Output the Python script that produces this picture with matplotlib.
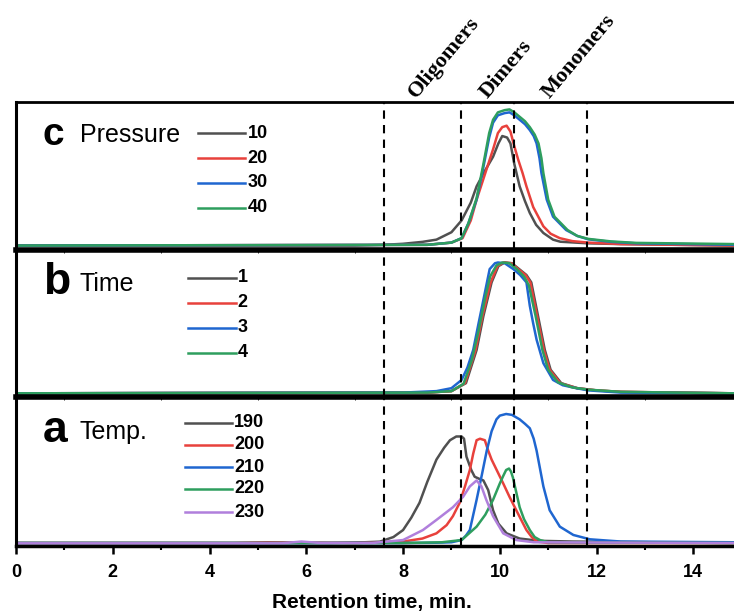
import numpy as np
import matplotlib
matplotlib.use('Agg')
import matplotlib.pyplot as plt

plt.rcParams['font.family'] = 'Liberation Sans'

# retention time (min) and normalised detector signal
# panel c : pressure
press_labels = ['10', '20', '30', '40']
press_x = [
    [0, 7.0, 7.6, 8.0, 8.4, 8.69, 9.0, 9.21, 9.4, 9.52, 9.7, 9.86, 9.97, 10.05, 10.15, 10.22, 10.3, 10.41, 10.52, 10.62, 10.75, 10.9, 11.1, 11.25, 11.83, 12.5, 14.84],
    [0, 8.5, 9.0, 9.23, 9.4, 9.52, 9.7, 9.86, 9.96, 10.05, 10.14, 10.22, 10.3, 10.38, 10.47, 10.55, 10.69, 10.9, 11.05, 11.24, 11.5, 11.83, 12.5, 14.84],
    [0, 8.5, 9.0, 9.21, 9.35, 9.52, 9.66, 9.78, 9.86, 9.96, 10.1, 10.2, 10.3, 10.41, 10.52, 10.62, 10.7, 10.76, 10.82, 10.86, 10.97, 11.1, 11.37, 11.6, 11.83, 12.3, 12.82, 14.84],
    [0, 8.5, 9.0, 9.21, 9.35, 9.52, 9.66, 9.78, 9.86, 9.96, 10.1, 10.2, 10.3, 10.41, 10.52, 10.62, 10.72, 10.8, 10.86, 10.9, 11.0, 11.13, 11.4, 11.6, 11.83, 12.3, 12.82, 14.84],
]
press_y = [
    [0.03, 0.03, 0.035, 0.042, 0.055, 0.07, 0.12, 0.20, 0.32, 0.43, 0.54, 0.63, 0.72, 0.77, 0.76, 0.72, 0.58, 0.43, 0.33, 0.25, 0.17, 0.115, 0.07, 0.056, 0.045, 0.04, 0.03],
    [0.03, 0.035, 0.05, 0.08, 0.20, 0.34, 0.52, 0.68, 0.79, 0.83, 0.84, 0.80, 0.70, 0.61, 0.52, 0.43, 0.29, 0.16, 0.11, 0.08, 0.06, 0.05, 0.04, 0.03],
    [0.03, 0.035, 0.05, 0.08, 0.18, 0.34, 0.56, 0.76, 0.86, 0.91, 0.925, 0.93, 0.91, 0.88, 0.85, 0.81, 0.77, 0.72, 0.62, 0.52, 0.34, 0.225, 0.135, 0.095, 0.072, 0.055, 0.045, 0.035],
    [0.03, 0.035, 0.05, 0.08, 0.18, 0.35, 0.58, 0.79, 0.88, 0.93, 0.945, 0.95, 0.93, 0.90, 0.87, 0.83, 0.78, 0.72, 0.62, 0.52, 0.34, 0.225, 0.135, 0.095, 0.075, 0.058, 0.048, 0.04],
]

# panel b : time
time_labels = ['1', '2', '3', '4']
time_x = [
    [0, 8.5, 9.0, 9.3, 9.52, 9.66, 9.83, 9.97, 10.1, 10.25, 10.4, 10.55, 10.65, 10.79, 10.93, 11.05, 11.27, 11.6, 12.0, 12.5, 14.84],
    [0, 8.5, 9.0, 9.28, 9.5, 9.64, 9.81, 9.95, 10.08, 10.23, 10.38, 10.53, 10.63, 10.77, 10.91, 11.03, 11.25, 11.6, 12.0, 12.5, 14.84],
    [0, 8.0, 8.69, 9.0, 9.21, 9.33, 9.45, 9.56, 9.66, 9.79, 9.9, 9.96, 10.1, 10.28, 10.42, 10.55, 10.62, 10.69, 10.76, 10.9, 11.1, 11.3, 11.58, 11.83, 12.5, 14.84],
    [0, 8.5, 9.0, 9.25, 9.42, 9.56, 9.7, 9.8, 9.93, 10.05, 10.2, 10.35, 10.5, 10.6, 10.74, 10.88, 11.0, 11.2, 11.5, 11.83, 12.5, 14.84],
]
time_y = [
    [0.025, 0.03, 0.04, 0.094, 0.32, 0.55, 0.78, 0.89, 0.915, 0.91, 0.87, 0.83, 0.78, 0.55, 0.32, 0.185, 0.094, 0.06, 0.045, 0.035, 0.025],
    [0.025, 0.03, 0.04, 0.094, 0.32, 0.55, 0.78, 0.89, 0.915, 0.91, 0.87, 0.83, 0.78, 0.55, 0.32, 0.185, 0.094, 0.06, 0.045, 0.035, 0.025],
    [0.025, 0.03, 0.04, 0.06, 0.116, 0.2, 0.32, 0.5, 0.66, 0.87, 0.91, 0.915, 0.91, 0.87, 0.83, 0.78, 0.62, 0.50, 0.39, 0.23, 0.116, 0.08, 0.06, 0.045, 0.03, 0.025],
    [0.025, 0.03, 0.04, 0.09, 0.25, 0.45, 0.68, 0.82, 0.895, 0.915, 0.91, 0.87, 0.82, 0.76, 0.55, 0.32, 0.185, 0.1, 0.065, 0.05, 0.035, 0.025],
]

# panel a : temperature
temp_labels = ['190', '200', '210', '220', '230']
temp_x = [
    [0, 6.5, 7.2, 7.52, 7.8, 8.0, 8.17, 8.34, 8.5, 8.69, 8.85, 8.97, 9.1, 9.21, 9.26, 9.31, 9.41, 9.48, 9.58, 9.66, 9.76, 9.86, 9.97, 10.14, 10.41, 10.8, 11.5, 14.84],
    [0, 4.5, 5.2, 7.0, 8.0, 8.4, 8.69, 8.9, 9.03, 9.17, 9.28, 9.38, 9.45, 9.52, 9.59, 9.69, 9.76, 9.83, 9.95, 10.07, 10.2, 10.34, 10.45, 10.55, 10.66, 10.76, 11.0, 14.84],
    [0, 8.0, 8.7, 9.0, 9.21, 9.3, 9.38, 9.52, 9.63, 9.73, 9.83, 9.93, 10.0, 10.13, 10.25, 10.41, 10.52, 10.62, 10.7, 10.76, 10.83, 10.9, 11.03, 11.24, 11.52, 11.86, 12.5, 14.84],
    [0, 8.0, 8.8, 9.21, 9.52, 9.7, 9.86, 10.0, 10.07, 10.13, 10.19, 10.23, 10.27, 10.34, 10.41, 10.5, 10.62, 10.72, 10.83, 11.0, 14.84],
    [0, 5.5, 5.9, 6.3, 7.36, 8.0, 8.41, 8.69, 9.03, 9.24, 9.38, 9.52, 9.62, 9.72, 9.86, 10.07, 10.34, 10.7, 14.84],
]
temp_y = [
    [0.02, 0.02, 0.025, 0.029, 0.06, 0.107, 0.19, 0.29, 0.43, 0.58, 0.66, 0.71, 0.735, 0.735, 0.72, 0.60, 0.51, 0.465, 0.45, 0.44, 0.375, 0.24, 0.15, 0.085, 0.05, 0.035, 0.03, 0.02],
    [0.02, 0.02, 0.025, 0.02, 0.03, 0.05, 0.085, 0.14, 0.20, 0.29, 0.40, 0.51, 0.62, 0.71, 0.72, 0.71, 0.64, 0.58, 0.50, 0.42, 0.33, 0.24, 0.17, 0.107, 0.06, 0.03, 0.02, 0.02],
    [0.02, 0.02, 0.022, 0.025, 0.04, 0.07, 0.107, 0.31, 0.48, 0.64, 0.77, 0.85, 0.875, 0.886, 0.88, 0.85, 0.82, 0.79, 0.72, 0.64, 0.52, 0.40, 0.24, 0.13, 0.074, 0.045, 0.03, 0.025],
    [0.02, 0.02, 0.025, 0.04, 0.13, 0.21, 0.31, 0.42, 0.47, 0.51, 0.52, 0.50, 0.46, 0.36, 0.26, 0.18, 0.107, 0.06, 0.04, 0.025, 0.02],
    [0.018, 0.018, 0.03, 0.02, 0.02, 0.04, 0.107, 0.175, 0.26, 0.33, 0.40, 0.44, 0.40, 0.31, 0.20, 0.085, 0.04, 0.025, 0.02],
]

region_x = [7.6, 9.2, 10.3, 11.8]
region_names = ['Oligomers', 'Dimers', 'Monomers']
region_name_x = [8.27, 9.74, 11.02]

colors = ['#505050', '#e8413c', '#1f66d0', '#2e9e5e', '#b07fdc']

fig = plt.figure(figsize=(7.34, 6.15), dpi=100)
left = 16 / 734
ax_a = fig.add_axes([left, 1 - 546 / 615, 1 - left, 149 / 615])
ax_b = fig.add_axes([left, 1 - 397 / 615, 1 - left, 147 / 615], sharex=ax_a)
ax_c = fig.add_axes([left, 1 - 250 / 615, 1 - left, 148 / 615], sharex=ax_a)


def draw_panel(ax, xs, ys, labels, letter, letter_size, title, leg_x, leg_rows, text_y):
    for i in range(len(xs)):
        ax.plot(xs[i], ys[i], color=colors[i], lw=1.8, zorder=2)
    for xv in region_x:
        ax.axvline(xv, color='k', lw=1.5, ls=(0, (4, 3)), zorder=3)
    ax.set_ylim(0, 1)
    ax.set_yticks([])
    ax.text(0.0376, text_y, letter, transform=ax.transAxes, fontsize=letter_size,
            fontweight='bold', va='baseline', ha='left')
    ax.text(0.089, text_y + 0.02, title, transform=ax.transAxes, fontsize=18,
            va='baseline', ha='left')
    for i, lab in enumerate(labels):
        ax.plot([leg_x, leg_x + 0.066], [leg_rows[i], leg_rows[i]], color=colors[i],
                lw=1.8, transform=ax.transAxes)
        ax.text(leg_x + 0.069, leg_rows[i], lab, transform=ax.transAxes, fontsize=13,
                fontweight='bold', va='center', ha='left')
    for s in ['right', 'top']:
        ax.spines[s].set_visible(False)
    ax.spines['left'].set_linewidth(2.2)
    ax.spines['bottom'].set_linewidth(4)


draw_panel(ax_c, press_x, press_y, press_labels, 'c', 28, 'Pressure', 0.2535,
           [0.79, 0.62, 0.455, 0.284], 0.709)
draw_panel(ax_b, time_x, time_y, time_labels, 'b', 32, 'Time', 0.24,
           [0.81, 0.64, 0.47, 0.30], 0.70)
draw_panel(ax_a, temp_x, temp_y, temp_labels, 'a', 32, 'Temp.', 0.235,
           [0.826, 0.678, 0.53, 0.383, 0.228], 0.698)

ax_c.spines['top'].set_visible(True)
ax_c.spines['top'].set_linewidth(2)
ax_a.spines['bottom'].set_linewidth(2.5)

for ax in (ax_b, ax_c):
    ax.tick_params(axis='x', bottom=False, labelbottom=False)

ax_a.set_xlim(0, 14.84)
ax_a.set_xticks(np.arange(0, 15, 2))
ax_a.set_xticklabels([str(v) for v in range(0, 15, 2)], fontweight='bold', fontsize=13)
ax_a.set_xticks(np.arange(1, 15, 2), minor=True)
ax_a.tick_params(axis='x', which='major', direction='out', length=6, width=1.8, pad=7)
ax_a.tick_params(axis='x', which='minor', direction='out', length=3, width=1.5)
ax_a.set_xlabel('Retention time, min.', fontsize=15, fontweight='bold')
ax_a.xaxis.set_label_coords(0.495, -0.315)

for name, xv in zip(region_names, region_name_x):
    ax_c.text(xv, 1.02, name, transform=ax_c.get_xaxis_transform(), rotation=50,
              rotation_mode='anchor', ha='left', va='baseline', fontsize=16,
              fontweight='bold', family='Liberation Serif')

fig.savefig('out.png', dpi=100)
